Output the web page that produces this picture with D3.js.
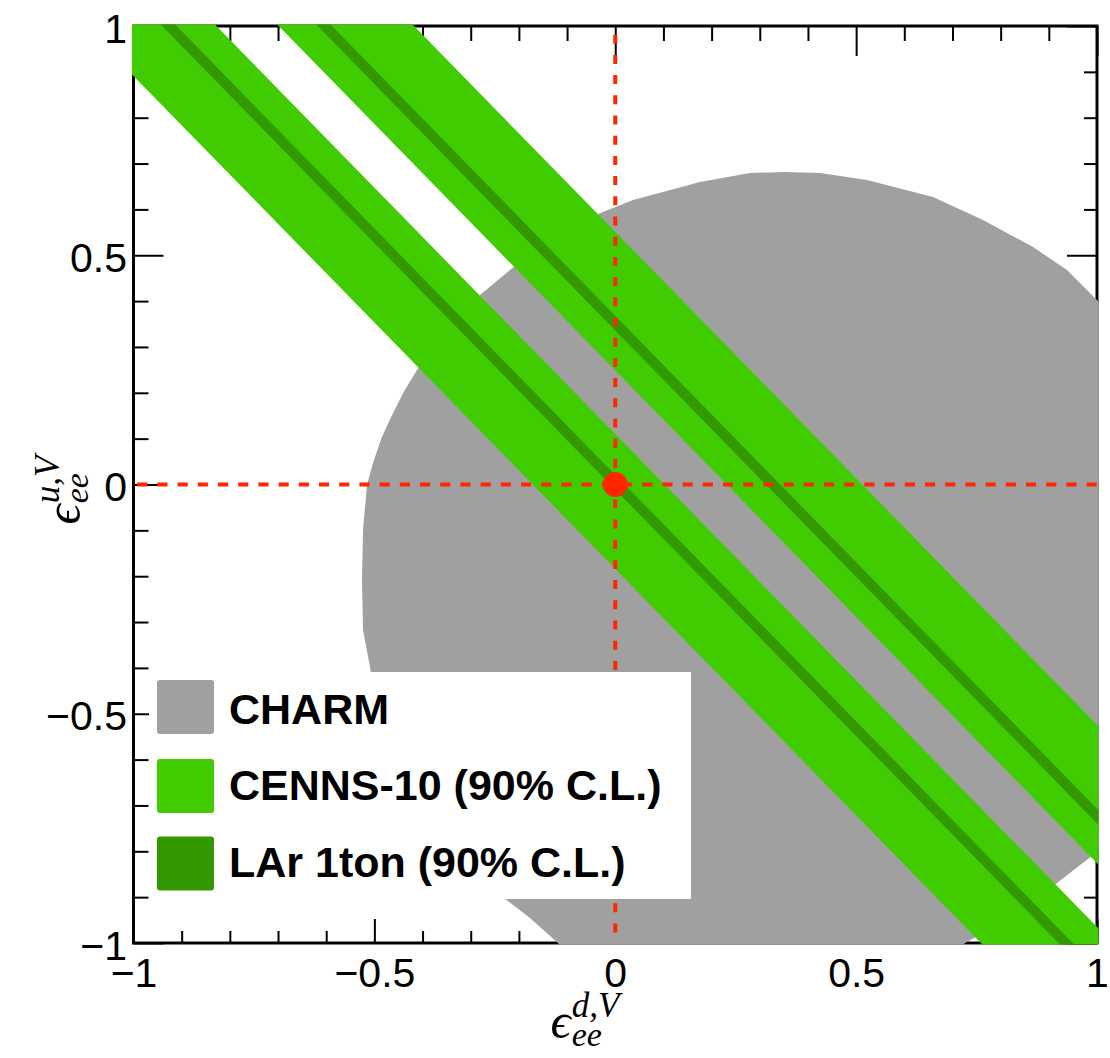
<!DOCTYPE html>
<html><head><meta charset="utf-8">
<script src="https://cdn.jsdelivr.net/npm/d3@7"></script>
<style>body{margin:0;background:#fff}</style>
</head><body>
<svg id="c" width="1110" height="1058"></svg>
<script>
// ---------- data ----------
const xDomain = [-1, 1];
const yDomain = [-1, 1];
const majorTicks = [-1, -0.5, 0, 0.5, 1];
const xTickLabels = ["−1", "−0.5", "0", "0.5", "1"];
const yTickLabels = ["−1", "−0.5", "0", "0.5", "1"];
const minorTicks = [-0.9, -0.8, -0.7, -0.6, -0.4, -0.3, -0.2, -0.1, 0.1, 0.2, 0.3, 0.4, 0.6, 0.7, 0.8, 0.9];

// CHARM allowed region boundary
const charmX = [-0.5257, -0.5236, -0.5153, -0.5029, -0.4850, -0.4640, -0.4400, -0.4115, -0.3534, -0.2807, -0.2185,
  -0.1354, -0.0462, 0.0368, 0.1759, 0.2797, 0.3524, 0.4250, 0.5226, 0.6596, 0.7634,
  0.8672, 0.9377, 1.0, 1.0581, 1.1308, 1.1723, 1.1515, 1.0685, 1.0, 0.9917,
  0.9170, 0.8236, 0.7260, 0.7052, -0.1043, -0.1188, -0.1770, -0.2309, -0.3119, -0.3845,
  -0.4468, -0.4883, -0.5091, -0.5236];
const charmY = [-0.2083, -0.0992, -0.0011, 0.0469, 0.1020, 0.1500, 0.2000, 0.2497, 0.3261, 0.4133, 0.4678,
  0.5333, 0.5856, 0.6205, 0.6598, 0.6794, 0.6816, 0.6794, 0.6641, 0.6270, 0.5769,
  0.5180, 0.4678, 0.4024, 0.3261, 0.1407, -0.0774, -0.3610, -0.6445, -0.7993, -0.8081,
  -0.8691, -0.9433, -1.0, -1.0262, -1.0262, -1.0, -0.9455, -0.9019, -0.8408, -0.7601,
  -0.6554, -0.5245, -0.3980, -0.3173];

// band edges: y values at bandEdgeX
const bandEdgeX = [-1.3, 1.3];
const cennsBand1Lower = [1.2135, -1.5815];
const cennsBand1Upper = [1.5075, -1.2875];
const cennsBand2Lower = [1.6465, -1.1485];
const cennsBand2Upper = [1.9485, -0.8465];
const larBand1Lower = [1.3865, -1.4085];
const larBand1Upper = [1.4185, -1.3765];
const larBand2Lower = [1.7335, -1.0615];
const larBand2Upper = [1.7655, -1.0295];

const smPoint = [0, 0];
const legendLabels = ["CHARM", "CENNS-10 (90% C.L.)", "LAr 1ton (90% C.L.)"];
const legendColors = ["#a0a0a0", "#40cc00", "#339900"];

// ---------- drawing ----------
const svg = d3.select("#c");
const x = d3.scaleLinear().domain(xDomain).range([133.5, 1097]);
const y = d3.scaleLinear().domain(yDomain).range([943, 26]);

const LBL = "'Liberation Sans', Arial, Helvetica, sans-serif";

function styleAxis(g, labels) {
  g.select(".domain").remove();
  g.selectAll(".tick line").attr("stroke", "#000").attr("stroke-width", 2);
  g.selectAll("text").attr("fill", "#000").attr("font-family", LBL).attr("font-size", 41);
  if (!labels) g.selectAll("text").remove();
}

// bottom
const gB = svg.append("g").attr("transform", `translate(0,${y(-1)})`);
gB.call(d3.axisBottom(x).tickValues(majorTicks).tickSizeInner(-24).tickSizeOuter(0)
  .tickFormat((d, i) => xTickLabels[i]));
styleAxis(gB, true);
gB.selectAll("text").attr("y", 44).attr("dy", 0);
const gBm = svg.append("g").attr("transform", `translate(0,${y(-1)})`);
gBm.call(d3.axisBottom(x).tickValues(minorTicks).tickSizeInner(-12).tickSizeOuter(0).tickFormat(""));
styleAxis(gBm, false);
// top
const gT = svg.append("g").attr("transform", `translate(0,${y(1)})`);
gT.call(d3.axisTop(x).tickValues(majorTicks).tickSizeInner(-30).tickSizeOuter(0).tickFormat(""));
styleAxis(gT, false);
const gTm = svg.append("g").attr("transform", `translate(0,${y(1)})`);
gTm.call(d3.axisTop(x).tickValues(minorTicks).tickSizeInner(-15).tickSizeOuter(0).tickFormat(""));
styleAxis(gTm, false);
// left
const gL = svg.append("g").attr("transform", `translate(${x(-1)},0)`);
gL.call(d3.axisLeft(y).tickValues(majorTicks).tickSizeInner(-30).tickSizeOuter(0)
  .tickFormat((d, i) => yTickLabels[i]));
styleAxis(gL, true);
gL.selectAll("text").attr("x", -6.5).attr("dy", 0).attr("y", 16).attr("text-anchor", "end");
const gLm = svg.append("g").attr("transform", `translate(${x(-1)},0)`);
gLm.call(d3.axisLeft(y).tickValues(minorTicks).tickSizeInner(-15).tickSizeOuter(0).tickFormat(""));
styleAxis(gLm, false);
// right
const gR = svg.append("g").attr("transform", `translate(${x(1)},0)`);
gR.call(d3.axisRight(y).tickValues(majorTicks).tickSizeInner(-30).tickSizeOuter(0).tickFormat(""));
styleAxis(gR, false);
const gRm = svg.append("g").attr("transform", `translate(${x(1)},0)`);
gRm.call(d3.axisRight(y).tickValues(minorTicks).tickSizeInner(-13).tickSizeOuter(0).tickFormat(""));
styleAxis(gRm, false);

// frame
svg.append("rect").attr("x", x(-1)).attr("y", y(1))
  .attr("width", x(1) - x(-1)).attr("height", y(-1) - y(1))
  .attr("fill", "none").attr("stroke", "#000").attr("stroke-width", 3);

// clip for filled regions (covers frame line)
svg.append("clipPath").attr("id", "clipFill").append("rect")
  .attr("x", x(-1) - 1.5).attr("y", y(1) - 1.5)
  .attr("width", x(1) - x(-1) + 3).attr("height", y(-1) - y(1) + 3);

const fills = svg.append("g").attr("clip-path", "url(#clipFill)");
const line = d3.line().x(d => x(d[0])).y(d => y(d[1]));

// CHARM
const charmPts = charmX.map((v, i) => [v, charmY[i]]);
fills.append("path").attr("d", line(charmPts) + "Z").attr("fill", legendColors[0]);

function band(lower, upper, color) {
  const pts = [[bandEdgeX[0], lower[0]], [bandEdgeX[1], lower[1]],
               [bandEdgeX[1], upper[1]], [bandEdgeX[0], upper[0]]];
  fills.append("path").attr("d", line(pts) + "Z").attr("fill", color);
}
band(cennsBand1Lower, cennsBand1Upper, legendColors[1]);
band(cennsBand2Lower, cennsBand2Upper, legendColors[1]);
band(larBand1Lower, larBand1Upper, legendColors[2]);
band(larBand2Lower, larBand2Upper, legendColors[2]);

// dashed SM lines
const red = "#ff2600";
svg.append("line").attr("x1", x(-1)).attr("x2", x(1)).attr("y1", y(smPoint[1])).attr("y2", y(smPoint[1]))
  .attr("stroke", red).attr("stroke-width", 4).attr("stroke-dasharray", "10.1,10.1").attr("stroke-dashoffset", 16.5);
svg.append("line").attr("x1", x(smPoint[0])).attr("x2", x(smPoint[0])).attr("y1", y(1)).attr("y2", y(-1))
  .attr("stroke", red).attr("stroke-width", 4).attr("stroke-dasharray", "9,11.2").attr("stroke-dashoffset", 11.5);
svg.append("circle").attr("cx", x(smPoint[0])).attr("cy", y(smPoint[1])).attr("r", 12.5).attr("fill", red);

// legend
const leg = svg.append("g");
leg.append("rect").attr("x", 149).attr("y", 672).attr("width", 542).attr("height", 227).attr("fill", "#fff");
const legY = [707, 786, 863.5];
const legTextY = [724, 800, 877];
legendLabels.forEach((lab, i) => {
  leg.append("rect").attr("x", 157).attr("y", legY[i] - 27).attr("width", 57).attr("height", 54)
    .attr("rx", 3).attr("fill", legendColors[i]);
  leg.append("text").attr("x", 229).attr("y", legTextY[i]).text(lab)
    .attr("font-family", LBL).attr("font-weight", "bold").attr("font-size", 43).attr("fill", "#000");
});

// axis titles
const SER = "'Liberation Serif','DejaVu Serif',serif";
function mathTitle(g, sup, sub) {
  const inner = g.append("g");
  const eps = inner.append("text").text("ϵ").attr("font-family", SER).attr("font-style", "italic")
    .attr("font-size", 50).attr("fill", "#000");
  const w = eps.node().getComputedTextLength();
  const s1 = inner.append("text").attr("x", w + 1).attr("y", 8).text(sub)
    .attr("font-family", SER).attr("font-style", "italic").attr("font-size", 34).attr("fill", "#000");
  const s2 = inner.append("text").attr("x", w + 1).attr("y", -21).text(sup)
    .attr("font-family", SER).attr("font-style", "italic").attr("font-size", 35).attr("fill", "#000");
  const total = w + 1 + Math.max(s1.node().getComputedTextLength(), s2.node().getComputedTextLength());
  inner.attr("transform", `translate(${-total / 2},0)`);
}
mathTitle(svg.append("g").attr("transform", "translate(585,1038)"), "d,V", "ee");
mathTitle(svg.append("g").attr("transform", "translate(80,490) rotate(-90)"), "u,V", "ee");
</script>
</body></html>
